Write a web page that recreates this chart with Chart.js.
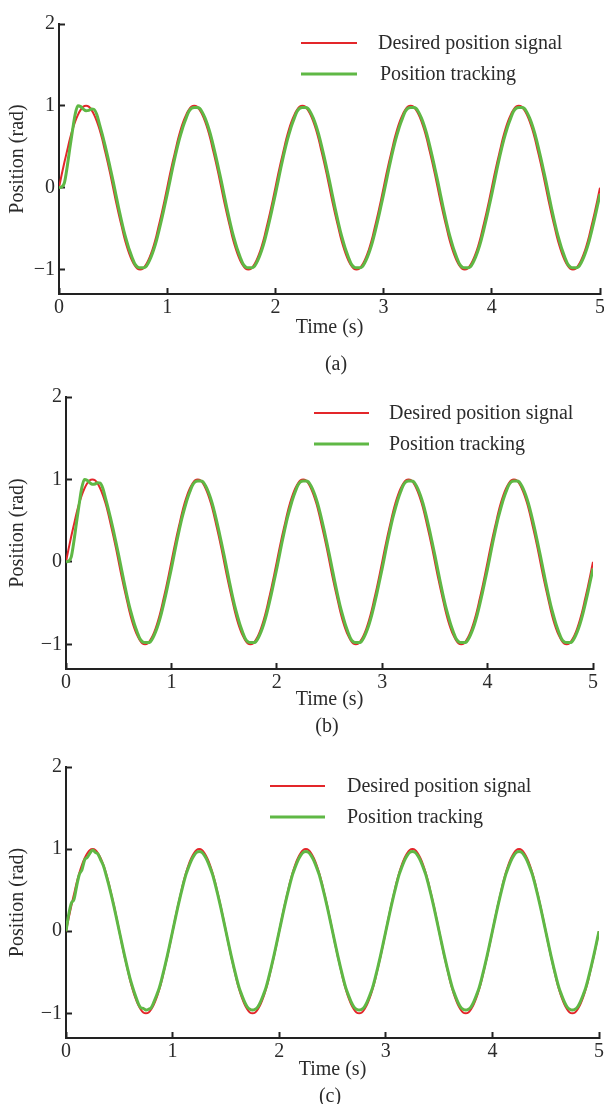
<!DOCTYPE html>
<html>
<head>
<meta charset="utf-8">
<script src="https://cdn.jsdelivr.net/npm/chart.js@4.4.1/dist/chart.umd.min.js"></script>
<style>
  html, body { margin: 0; padding: 0; background: #fff; }
  #wrap { position: relative; width: 604px; height: 1104px; overflow: hidden; }
  canvas { position: absolute; left: 0; }
</style>
</head>
<body>
<div id="wrap">
  <canvas id="panelA" width="604" height="380" style="top:0px"></canvas>
  <canvas id="panelB" width="604" height="370" style="top:380px"></canvas>
  <canvas id="panelC" width="604" height="354" style="top:750px"></canvas>
</div>
<script>
// sampling grid of the recorded signals (s)
const SAMPLE_STEP = 0.025;

const xTicks = [0, 1, 2, 3, 4, 5];
const yTicks = [-1, 0, 1, 2];
const seriesNames = ["Desired position signal", "Position tracking"];
const captions = ["(a)", "(b)", "(c)"];

// desired position (rad), one row = 0.5 s
const desired = [
  0, 0.16, 0.31, 0.45, 0.59, 0.71, 0.81, 0.89, 0.95, 0.99, 1, 0.99, 0.95, 0.89, 0.81, 0.71, 0.59, 0.45, 0.31, 0.16,
  0, -0.16, -0.31, -0.45, -0.59, -0.71, -0.81, -0.89, -0.95, -0.99, -1, -0.99, -0.95, -0.89, -0.81, -0.71, -0.59, -0.45, -0.31, -0.16,
  0, 0.16, 0.31, 0.45, 0.59, 0.71, 0.81, 0.89, 0.95, 0.99, 1, 0.99, 0.95, 0.89, 0.81, 0.71, 0.59, 0.45, 0.31, 0.16,
  0, -0.16, -0.31, -0.45, -0.59, -0.71, -0.81, -0.89, -0.95, -0.99, -1, -0.99, -0.95, -0.89, -0.81, -0.71, -0.59, -0.45, -0.31, -0.16,
  0, 0.16, 0.31, 0.45, 0.59, 0.71, 0.81, 0.89, 0.95, 0.99, 1, 0.99, 0.95, 0.89, 0.81, 0.71, 0.59, 0.45, 0.31, 0.16,
  0, -0.16, -0.31, -0.45, -0.59, -0.71, -0.81, -0.89, -0.95, -0.99, -1, -0.99, -0.95, -0.89, -0.81, -0.71, -0.59, -0.45, -0.31, -0.16,
  0, 0.16, 0.31, 0.45, 0.59, 0.71, 0.81, 0.89, 0.95, 0.99, 1, 0.99, 0.95, 0.89, 0.81, 0.71, 0.59, 0.45, 0.31, 0.16,
  0, -0.16, -0.31, -0.45, -0.59, -0.71, -0.81, -0.89, -0.95, -0.99, -1, -0.99, -0.95, -0.89, -0.81, -0.71, -0.59, -0.45, -0.31, -0.16,
  0, 0.16, 0.31, 0.45, 0.59, 0.71, 0.81, 0.89, 0.95, 0.99, 1, 0.99, 0.95, 0.89, 0.81, 0.71, 0.59, 0.45, 0.31, 0.16,
  0, -0.16, -0.31, -0.45, -0.59, -0.71, -0.81, -0.89, -0.95, -0.99, -1, -0.99, -0.95, -0.89, -0.81, -0.71, -0.59, -0.45, -0.31, -0.16,
  0,
];

// tracked position, panels (a) and (b) look the same
const trackA = [
  0, 0.01, 0.06, 0.25, 0.48, 0.7, 0.9, 1.0, 0.99, 0.96, 0.94, 0.945, 0.96, 0.955, 0.89, 0.77, 0.65, 0.52, 0.38, 0.23,
  0.08, -0.08, -0.24, -0.39, -0.53, -0.65, -0.76, -0.85, -0.93, -0.97, -0.98, -0.98, -0.97, -0.92, -0.85, -0.76, -0.65, -0.52, -0.38, -0.23,
  -0.08, 0.08, 0.24, 0.39, 0.53, 0.65, 0.76, 0.85, 0.93, 0.97, 0.98, 0.98, 0.97, 0.92, 0.85, 0.76, 0.65, 0.52, 0.38, 0.23,
  0.08, -0.08, -0.24, -0.39, -0.53, -0.65, -0.76, -0.85, -0.93, -0.97, -0.98, -0.98, -0.97, -0.92, -0.85, -0.76, -0.65, -0.52, -0.38, -0.23,
  -0.08, 0.08, 0.24, 0.39, 0.53, 0.65, 0.76, 0.85, 0.93, 0.97, 0.98, 0.98, 0.97, 0.92, 0.85, 0.76, 0.65, 0.52, 0.38, 0.23,
  0.08, -0.08, -0.24, -0.39, -0.53, -0.65, -0.76, -0.85, -0.93, -0.97, -0.98, -0.98, -0.97, -0.92, -0.85, -0.76, -0.65, -0.52, -0.38, -0.23,
  -0.08, 0.08, 0.24, 0.39, 0.53, 0.65, 0.76, 0.85, 0.93, 0.97, 0.98, 0.98, 0.97, 0.92, 0.85, 0.76, 0.65, 0.52, 0.38, 0.23,
  0.08, -0.08, -0.24, -0.39, -0.53, -0.65, -0.76, -0.85, -0.93, -0.97, -0.98, -0.98, -0.97, -0.92, -0.85, -0.76, -0.65, -0.52, -0.38, -0.23,
  -0.08, 0.08, 0.24, 0.39, 0.53, 0.65, 0.76, 0.85, 0.93, 0.97, 0.98, 0.98, 0.97, 0.92, 0.85, 0.76, 0.65, 0.52, 0.38, 0.23,
  0.08, -0.08, -0.24, -0.39, -0.53, -0.65, -0.76, -0.85, -0.93, -0.97, -0.98, -0.98, -0.97, -0.92, -0.85, -0.76, -0.65, -0.52, -0.38, -0.23,
  -0.08,
];
const trackB = trackA;

// panel (c): small amplitude loss, some ripple in the first second
const trackC = [
  0, 0.2, 0.34, 0.39, 0.55, 0.69, 0.75, 0.87, 0.9, 0.95, 0.99, 0.96, 0.94, 0.87, 0.8, 0.69, 0.57, 0.44, 0.3, 0.15,
  0, -0.15, -0.3, -0.44, -0.57, -0.68, -0.78, -0.87, -0.93, -0.94, -0.96, -0.95, -0.93, -0.86, -0.78, -0.69, -0.57, -0.44, -0.3, -0.15,
  0, 0.15, 0.3, 0.44, 0.57, 0.69, 0.78, 0.86, 0.92, 0.96, 0.97, 0.96, 0.92, 0.86, 0.78, 0.69, 0.57, 0.44, 0.3, 0.15,
  0, -0.15, -0.3, -0.44, -0.57, -0.69, -0.78, -0.86, -0.92, -0.95, -0.96, -0.95, -0.92, -0.86, -0.78, -0.69, -0.57, -0.44, -0.3, -0.15,
  0, 0.15, 0.3, 0.44, 0.57, 0.69, 0.78, 0.86, 0.92, 0.96, 0.97, 0.96, 0.92, 0.86, 0.78, 0.69, 0.57, 0.44, 0.3, 0.15,
  0, -0.15, -0.3, -0.44, -0.57, -0.69, -0.78, -0.86, -0.92, -0.95, -0.96, -0.95, -0.92, -0.86, -0.78, -0.69, -0.57, -0.44, -0.3, -0.15,
  0, 0.15, 0.3, 0.44, 0.57, 0.69, 0.78, 0.86, 0.92, 0.96, 0.97, 0.96, 0.92, 0.86, 0.78, 0.69, 0.57, 0.44, 0.3, 0.15,
  0, -0.15, -0.3, -0.44, -0.57, -0.69, -0.78, -0.86, -0.92, -0.95, -0.96, -0.95, -0.92, -0.86, -0.78, -0.69, -0.57, -0.44, -0.3, -0.15,
  0, 0.15, 0.3, 0.44, 0.57, 0.69, 0.78, 0.86, 0.92, 0.96, 0.97, 0.96, 0.92, 0.86, 0.78, 0.69, 0.57, 0.44, 0.3, 0.15,
  0, -0.15, -0.3, -0.44, -0.57, -0.69, -0.78, -0.86, -0.92, -0.95, -0.96, -0.95, -0.92, -0.86, -0.78, -0.69, -0.57, -0.44, -0.3, -0.15,
  0,
];

const RED = "#e3262a";
const GREEN = "#5fb845";
const TEXT = "#2b2b2b";
const AXIS = "#222222";
const FONT = { family: "'Liberation Serif', 'Times New Roman', serif", size: 20 };

function toPoints(values) {
  return values.map((v, i) => ({ x: i * SAMPLE_STEP, y: v }));
}

function minusTick(v) {
  return v < 0 ? "\u2212" + Math.abs(v) : String(v);
}

// legend drawn inside the plot, two short line swatches + labels
const legendBox = {
  id: "legendBox",
  afterDraw(chart, args, opts) {
    const ctx = chart.ctx;
    ctx.save();
    ctx.font = FONT.size + "px " + FONT.family;
    ctx.textBaseline = "middle";
    ctx.textAlign = "left";
    chart.data.datasets.forEach((ds, i) => {
      const y = opts.rows[i];
      ctx.strokeStyle = ds.borderColor;
      ctx.lineWidth = ds.borderWidth;
      ctx.beginPath();
      ctx.moveTo(opts.x1, y);
      ctx.lineTo(opts.x2, y);
      ctx.stroke();
      ctx.fillStyle = TEXT;
      ctx.fillText(ds.label, opts.textX[i], y + 1);
    });
    ctx.restore();
  },
};

const caption = {
  id: "caption",
  afterDraw(chart, args, opts) {
    const ctx = chart.ctx;
    ctx.save();
    ctx.font = FONT.size + "px " + FONT.family;
    ctx.fillStyle = TEXT;
    ctx.textAlign = "center";
    ctx.textBaseline = "middle";
    ctx.fillText(opts.text, opts.x, opts.y);
    ctx.restore();
  },
};

function makePanel(id, track, lay) {
  new Chart(document.getElementById(id), {
    type: "line",
    data: {
      datasets: [
        { label: seriesNames[0], data: toPoints(desired), borderColor: RED, borderWidth: 2, order: 1 },
        { label: seriesNames[1], data: toPoints(track), borderColor: GREEN, borderWidth: 3, order: 0 },
      ],
    },
    options: {
      responsive: false,
      animation: false,
      devicePixelRatio: 1,
      layout: { padding: { top: lay.top, right: lay.right, left: 0, bottom: 0 } },
      elements: {
        point: { radius: 0 },
        line: { cubicInterpolationMode: "monotone", fill: false },
      },
      plugins: {
        legend: { display: false },
        tooltip: { enabled: false },
        legendBox: lay.legend,
        caption: lay.caption,
      },
      scales: {
        x: {
          type: "linear",
          min: 0,
          max: 5,
          afterBuildTicks: (s) => { s.ticks = xTicks.map((v) => ({ value: v })); },
          afterFit: (s) => { s.height = lay.xHeight; s.paddingLeft = 0; s.paddingRight = 0; },
          grid: { drawOnChartArea: false, tickLength: -6, tickWidth: 2, tickColor: AXIS },
          border: { color: AXIS, width: 2 },
          ticks: { font: FONT, color: TEXT, padding: 8, maxRotation: 0, autoSkip: false },
          title: { display: true, text: "Time (s)", font: FONT, color: TEXT, padding: { top: 0, bottom: lay.xTitlePad } },
        },
        y: {
          min: -1.3,
          max: 2,
          afterBuildTicks: (s) => { s.ticks = yTicks.map((v) => ({ value: v })); },
          afterFit: (s) => { s.width = lay.left; s.paddingTop = 0; s.paddingBottom = 0; },
          grid: { drawOnChartArea: false, tickLength: -6, tickWidth: 2, tickColor: AXIS },
          border: { color: AXIS, width: 2 },
          ticks: { font: FONT, color: TEXT, padding: 10, callback: minusTick },
          title: { display: true, text: "Position (rad)", font: FONT, color: TEXT, padding: { top: 6, bottom: 0 } },
        },
      },
    },
    plugins: [legendBox, caption],
  });
}

makePanel("panelA", trackA, {
  top: 24, right: 4, left: 59, xHeight: 86, xTitlePad: 40,
  legend: { x1: 301, x2: 357, rows: [43, 74], textX: [378, 380] },
  caption: { text: captions[0], x: 336, y: 365 },
});
makePanel("panelB", trackB, {
  top: 17, right: 11, left: 66, xHeight: 81, xTitlePad: 38,
  legend: { x1: 314, x2: 369, rows: [33, 64], textX: [389, 389] },
  caption: { text: captions[1], x: 327, y: 347 },
});
makePanel("panelC", trackC, {
  top: 17, right: 5, left: 66, xHeight: 66, xTitlePad: 22,
  legend: { x1: 270, x2: 325, rows: [36, 67], textX: [347, 347] },
  caption: { text: captions[2], x: 330, y: 347 },
});
</script>
</body>
</html>
